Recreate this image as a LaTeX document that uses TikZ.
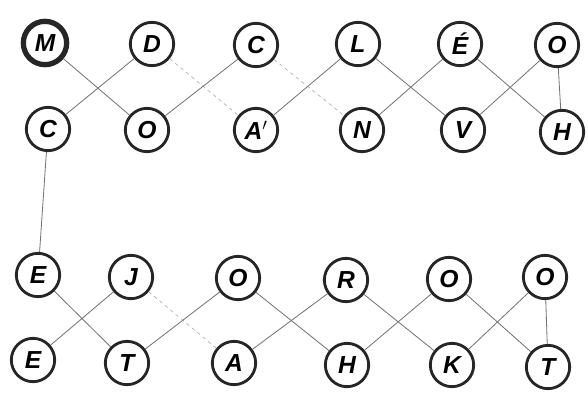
\documentclass[tikz,border=0pt]{standalone}
\usepackage{fontspec}
\setmainfont{Liberation Sans}
\begin{document}
\begin{tikzpicture}[x=0.03cm, y=-0.03cm,
    letter/.style={circle, draw=black!85, line width=2.4pt, minimum size=1.3cm, inner sep=0pt,
        font=\fontsize{21}{24}\selectfont\bfseries\itshape},
    link/.style={draw=black!55, line width=0.7pt},
    faint/.style={draw=black!30, line width=0.6pt, dashed}]
    \useasboundingbox (0,0) rectangle (588,395);

    % upper band
    \node[letter, line width=4.5pt] (t1) at (45,43) {M};
    \node[letter] (t2) at (152,44) {D};
    \node[letter] (t3) at (256,45) {C};
    \node[letter] (t4) at (358,44) {L};
    \node[letter] (t5) at (460,44) {É};
    \node[letter] (t6) at (557,45) {O};
    \node[letter] (b1) at (48,129) {C};
    \node[letter] (b2) at (147,130) {O};
    \node[letter] (b3) at (256,130) {A$'$};
    \node[letter] (b4) at (362,130) {N};
    \node[letter] (b5) at (463,130) {V};
    \node[letter] (b6) at (562,132) {H};

    \draw[link] (t1) -- (b2);
    \draw[link] (b1) -- (t2);
    \draw[faint] (t2) -- (b3);
    \draw[link] (b2) -- (t3);
    \draw[faint] (t3) -- (b4);
    \draw[link] (b3) -- (t4);
    \draw[link] (t4) -- (b5);
    \draw[link] (b4) -- (t5);
    \draw[link] (t5) -- (b6);
    \draw[link] (b5) -- (t6);
    \draw[link] (t6) -- (b6);

    % lower band
    \node[letter] (r1) at (38,275) {E};
    \node[letter] (r2) at (131,277) {J};
    \node[letter] (r3) at (238,278) {O};
    \node[letter] (r4) at (346,280) {R};
    \node[letter] (r5) at (449,279) {O};
    \node[letter] (r6) at (545,277) {O};
    \node[letter] (s1) at (33,360) {E};
    \node[letter] (s2) at (127,363) {T};
    \node[letter] (s3) at (234,363) {A};
    \node[letter] (s4) at (347,365) {H};
    \node[letter] (s5) at (452,365) {K};
    \node[letter] (s6) at (548,367) {T};

    \draw[link] (b1) -- (r1);
    \draw[link] (r1) -- (s2);
    \draw[link] (s1) -- (r2);
    \draw[faint] (r2) -- (s3);
    \draw[link] (s2) -- (r3);
    \draw[link] (r3) -- (s4);
    \draw[link] (s3) -- (r4);
    \draw[link] (r4) -- (s5);
    \draw[link] (s4) -- (r5);
    \draw[link] (r5) -- (s6);
    \draw[link] (s5) -- (r6);
    \draw[link] (r6) -- (s6);
\end{tikzpicture}
\end{document}
